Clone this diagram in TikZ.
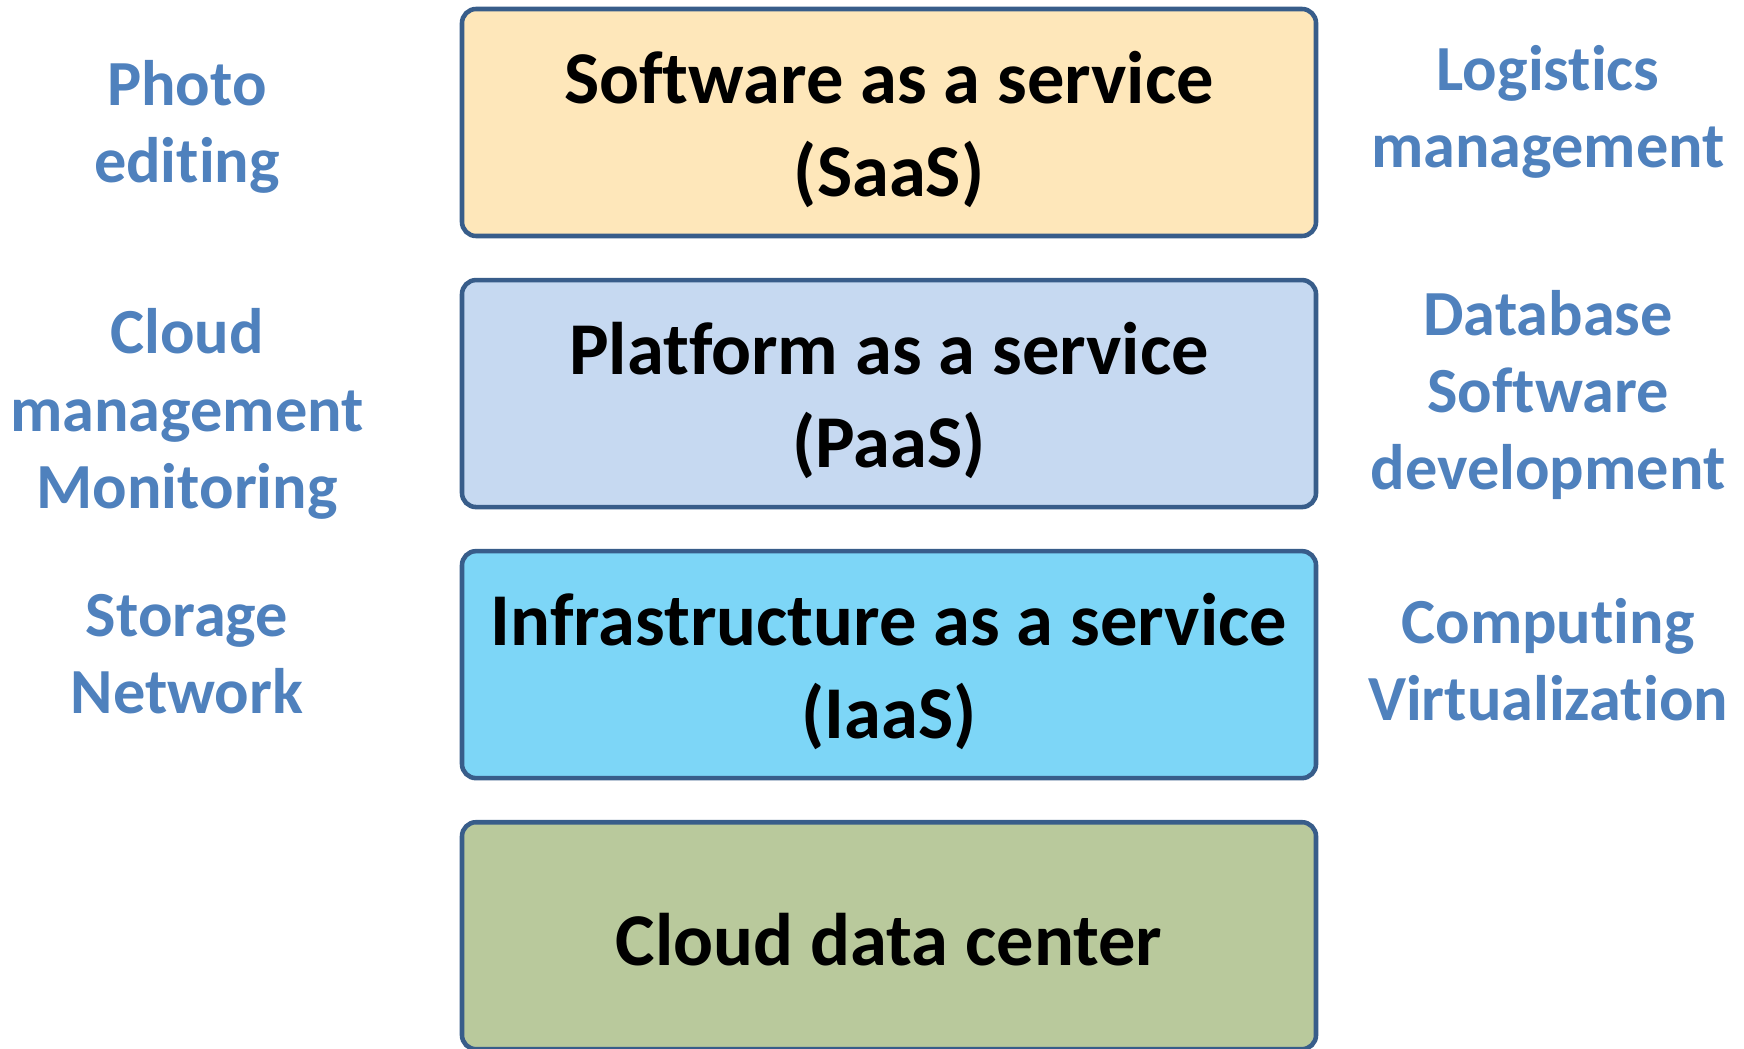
\documentclass[tikz,border=0pt]{standalone}
\usepackage{fontspec}
\setmainfont{Carlito}[Ligatures=NoCommon]
\usetikzlibrary{positioning}
\definecolor{edge}{HTML}{385D8A}
\definecolor{tagblue}{HTML}{4F81BD}
\definecolor{saas}{HTML}{FEE7BA}
\definecolor{paas}{HTML}{C6D9F1}
\definecolor{iaas}{HTML}{7DD6F7}
\definecolor{dc}{HTML}{B9C99C}
\tikzset{
  ly/.style={rectangle, rounded corners=4pt, minimum width=8.54cm, minimum height=2.27cm, draw=edge, line width=1.3pt},
  lt/.style={align=center, yshift=-1.9pt, font=\fontsize{21.2}{26.5}\selectfont\bfseries},
  tag/.style={align=center, text=tagblue, font=\fontsize{18.3}{22}\selectfont\bfseries},
  node distance=3.95mm
}
\begin{document}
\begin{tikzpicture}
\useasboundingbox (0,0) rectangle (17.44,-10.48);
% layers
\node[ly, fill=saas] (sa) at (8.89,-1.225) {};
\node[ly, fill=paas, below=of sa] (pa) {};
\node[ly, fill=iaas, below=of pa] (ia) {};
\node[ly, fill=dc, below=of ia] (dc) {};
\node[lt] (satext) at (sa) {Software as a service\\(SaaS)};
\node[lt] (patext) at (pa) {Platform as a service\\(PaaS)};
\node[lt] (iatext) at (ia) {Infrastructure as a service\\(IaaS)};
\node[lt, yshift=0.8pt] (dctext) at (dc) {Cloud data center};
% left side
\node[tag] (photo) at (1.87,-1.27) {Photo\\editing};
\node[tag] (cloud) at (1.87,-4.14) {Cloud\\management\\Monitoring};
\node[tag] (store) at (1.87,-6.54) {Storage\\Network};
% right side
\node[tag] (logi) at (15.48,-1.12) {Logistics\\management};
\node[tag] (db) at (15.48,-3.95) {Database\\Software\\development};
\node[tag] (comp) at (15.48,-6.60) {Computing\\Virtualization};
\end{tikzpicture}
\end{document}
